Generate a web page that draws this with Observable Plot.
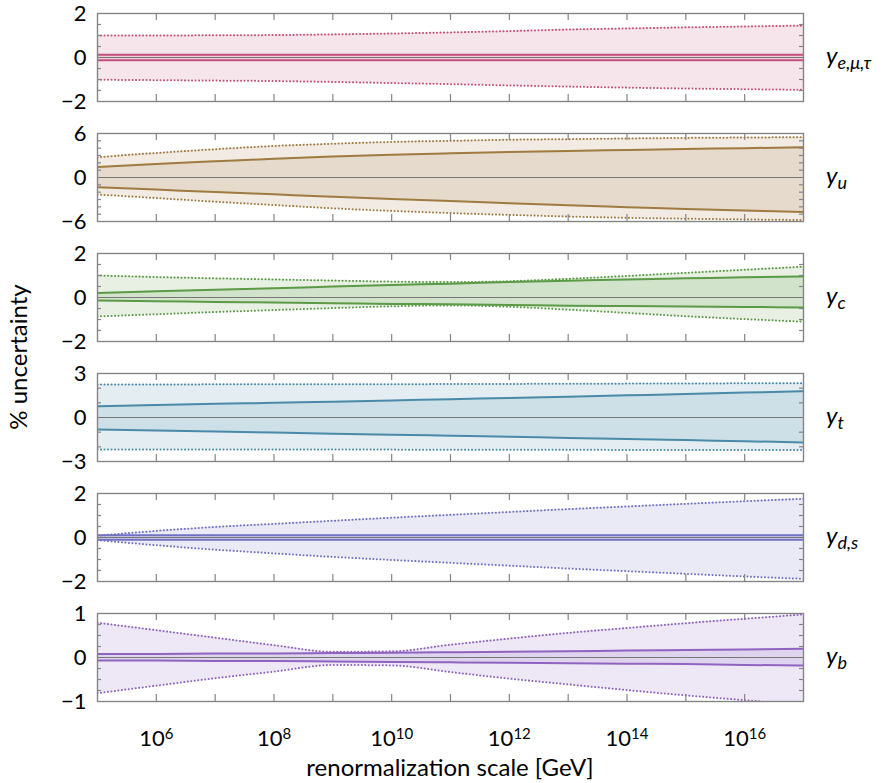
<!DOCTYPE html>
<html>
<head>
<meta charset="utf-8">
<script src="https://cdn.jsdelivr.net/npm/d3@7"></script>
<script src="https://cdn.jsdelivr.net/npm/@observablehq/plot@0.6"></script>
<style>
  html, body { margin: 0; padding: 0; background: #fff; }
  #wrap { position: relative; width: 885px; height: 783px; font-family: Lato, "Noto Sans", sans-serif; color: #000; }
  .panel { position: absolute; left: 0; }
  .rlab { position: absolute; left: 826px; font-size: 24px; font-style: italic; line-height: 1; transform: translateY(-50%); white-space: nowrap; }
  .rlab sub { font-size: 18px; vertical-align: -5px; }
  #ytitle { position: absolute; left: 18px; top: 357px; font-size: 24px; line-height: 1; transform: translate(-50%, -50%) rotate(-90deg); white-space: nowrap; }
  #xtitle { position: absolute; left: 450px; top: 767px; font-size: 24px; line-height: 1; transform: translate(-50%, -50%); white-space: nowrap; }
</style>
</head>
<body>
<div id="wrap"></div>
<script>
// renormalization scale grid (GeV)
const scaleGeV = [1e5, 1e6, 1e7, 1e8, 1e9, 1e10, 1e11, 1e12, 1e13, 1e14, 1e15, 1e16, 1e17];
const xTickValues = [1e6, 1e7, 1e8, 1e9, 1e10, 1e11, 1e12, 1e13, 1e14, 1e15, 1e16];
const xLabelValues = [1e6, 1e8, 1e10, 1e12, 1e14, 1e16];

// y_{e,mu,tau}
const ye_outerUp = [1.00, 1.00, 1.01, 1.02, 1.05, 1.09, 1.14, 1.20, 1.27, 1.32, 1.37, 1.41, 1.45];
const ye_outerLo = [-1.01, -1.03, -1.05, -1.07, -1.11, -1.16, -1.21, -1.27, -1.32, -1.37, -1.41, -1.44, -1.47];
const ye_innerUp = [0.12, 0.12, 0.12, 0.12, 0.12, 0.12, 0.12, 0.12, 0.12, 0.12, 0.12, 0.12, 0.12];
const ye_innerLo = [-0.12, -0.12, -0.12, -0.12, -0.12, -0.12, -0.12, -0.12, -0.12, -0.12, -0.12, -0.12, -0.12];

// y_u
const yu_outerUp = [2.77, 3.35, 3.85, 4.30, 4.60, 4.85, 5.00, 5.15, 5.23, 5.32, 5.40, 5.45, 5.50];
const yu_outerLo = [-2.32, -2.80, -3.30, -3.75, -4.20, -4.55, -4.85, -5.10, -5.32, -5.50, -5.62, -5.72, -5.80];
const yu_innerUp = [1.42, 1.85, 2.20, 2.55, 2.85, 3.10, 3.30, 3.48, 3.62, 3.75, 3.88, 4.00, 4.13];
const yu_innerLo = [-1.32, -1.65, -1.98, -2.30, -2.62, -2.92, -3.20, -3.50, -3.80, -4.05, -4.30, -4.50, -4.70];

// y_c
const yc_outerUp = [1.00, 0.93, 0.87, 0.82, 0.77, 0.72, 0.70, 0.74, 0.85, 0.98, 1.12, 1.26, 1.40];
const yc_outerLo = [-0.86, -0.76, -0.66, -0.57, -0.48, -0.40, -0.36, -0.42, -0.55, -0.70, -0.85, -0.98, -1.10];
const yc_innerUp = [0.21, 0.28, 0.35, 0.42, 0.50, 0.57, 0.63, 0.70, 0.76, 0.82, 0.87, 0.92, 0.96];
const yc_innerLo = [-0.14, -0.17, -0.20, -0.23, -0.26, -0.29, -0.31, -0.34, -0.37, -0.39, -0.41, -0.43, -0.45];

// y_t
const yt_outerUp = [2.25, 2.25, 2.26, 2.26, 2.27, 2.27, 2.28, 2.29, 2.30, 2.31, 2.32, 2.33, 2.34];
const yt_outerLo = [-2.18, -2.18, -2.18, -2.19, -2.19, -2.19, -2.20, -2.20, -2.20, -2.21, -2.21, -2.22, -2.22];
const yt_innerUp = [0.77, 0.85, 0.93, 1.00, 1.08, 1.16, 1.25, 1.33, 1.42, 1.51, 1.60, 1.70, 1.79];
const yt_innerLo = [-0.82, -0.89, -0.96, -1.03, -1.10, -1.17, -1.24, -1.31, -1.39, -1.46, -1.54, -1.62, -1.70];

// y_{d,s}
const yds_outerUp = [0.08, 0.30, 0.48, 0.62, 0.76, 0.90, 1.03, 1.16, 1.29, 1.41, 1.53, 1.65, 1.76];
const yds_outerLo = [-0.12, -0.35, -0.55, -0.72, -0.88, -1.02, -1.15, -1.28, -1.41, -1.53, -1.65, -1.77, -1.88];
const yds_innerUp = [0.10, 0.10, 0.10, 0.10, 0.10, 0.10, 0.10, 0.10, 0.10, 0.10, 0.10, 0.10, 0.10];
const yds_innerLo = [-0.10, -0.10, -0.10, -0.10, -0.10, -0.10, -0.10, -0.10, -0.10, -0.10, -0.10, -0.10, -0.10];

// y_b
const yb_outerUp = [0.79, 0.62, 0.45, 0.28, 0.13, 0.14, 0.29, 0.43, 0.56, 0.67, 0.78, 0.88, 0.98];
const yb_outerLo = [-0.81, -0.64, -0.47, -0.32, -0.17, -0.18, -0.33, -0.48, -0.61, -0.74, -0.86, -0.97, -1.08];
const yb_innerUp = [0.08, 0.08, 0.09, 0.09, 0.10, 0.11, 0.12, 0.13, 0.14, 0.16, 0.17, 0.18, 0.20];
const yb_innerLo = [-0.07, -0.07, -0.08, -0.08, -0.09, -0.10, -0.11, -0.12, -0.13, -0.14, -0.15, -0.17, -0.18];

// panel setup
const panelNames = ["e,μ,τ", "u", "c", "t", "d,s", "b"];
const panelColors = ["#c2507c", "#a07a40", "#5b9a46", "#4a8aa8", "#7272c4", "#8e64c0"];
const panelDomains = [[-2, 2], [-6, 6], [-2, 2], [-3, 3], [-2, 2], [-1, 1]];
const panelLabelTicks = [[-2, 0, 2], [-6, 0, 6], [-2, 0, 2], [-3, 0, 3], [-2, 0, 2], [-1, 0, 1]];
const panelMinorTicks = [
  [-1.5, -1, -0.5, 0.5, 1, 1.5],
  [-5, -4, -3, -2, -1, 1, 2, 3, 4, 5],
  [-1.5, -1, -0.5, 0.5, 1, 1.5],
  [-2, -1, 1, 2],
  [-1.5, -1, -0.5, 0.5, 1, 1.5],
  [-0.75, -0.5, -0.25, 0.25, 0.5, 0.75]
];
const panelSeries = [
  [ye_outerUp, ye_outerLo, ye_innerUp, ye_innerLo],
  [yu_outerUp, yu_outerLo, yu_innerUp, yu_innerLo],
  [yc_outerUp, yc_outerLo, yc_innerUp, yc_innerLo],
  [yt_outerUp, yt_outerLo, yt_innerUp, yt_innerLo],
  [yds_outerUp, yds_outerLo, yds_innerUp, yds_innerLo],
  [yb_outerUp, yb_outerLo, yb_innerUp, yb_innerLo]
];

const wrap = document.getElementById("wrap");
const W = 885, ML = 97, MR = 82, MT = 13, PH = 88, STEP = 120;
const frameColor = "#858585";
const FONT = "Lato, 'Noto Sans', sans-serif";

panelSeries.forEach((series, i) => {
  const [oU, oL, iU, iL] = series;
  const rows = scaleGeV.map((x, k) => ({x, oU: oU[k], oL: oL[k], iU: iU[k], iL: iL[k]}));
  const color = panelColors[i];
  const last = i === panelSeries.length - 1;
  const H = last ? 783 - STEP * i : STEP;
  const curve = "monotone-x";
  const marks = [
    Plot.areaY(rows, {x: "x", y1: "oL", y2: "oU", fill: color, fillOpacity: 0.15, curve, clip: true}),
    Plot.areaY(rows, {x: "x", y1: "iL", y2: "iU", fill: color, fillOpacity: 0.15, curve, clip: true}),
    Plot.ruleY([0], {stroke: "#777", strokeWidth: 1}),
    Plot.lineY(rows, {x: "x", y: "oU", stroke: color, strokeWidth: 2, strokeDasharray: "0.1,3.4", strokeLinecap: "round", curve, clip: true}),
    Plot.lineY(rows, {x: "x", y: "oL", stroke: color, strokeWidth: 2, strokeDasharray: "0.1,3.4", strokeLinecap: "round", curve, clip: true}),
    Plot.lineY(rows, {x: "x", y: "iU", stroke: color, strokeWidth: 2, curve, clip: true}),
    Plot.lineY(rows, {x: "x", y: "iL", stroke: color, strokeWidth: 2, curve, clip: true}),
    // inward frame ticks
    Plot.tickX(xTickValues, {x: d => d, stroke: frameColor, strokeWidth: 1.2, insetBottom: PH - 7}),
    Plot.tickX(xTickValues, {x: d => d, stroke: frameColor, strokeWidth: 1.2, insetTop: PH - 7}),
    Plot.tickY(panelMinorTicks[i], {y: d => d, stroke: frameColor, strokeWidth: 1.2, insetRight: W - ML - MR - 4}),
    Plot.tickY(panelMinorTicks[i], {y: d => d, stroke: frameColor, strokeWidth: 1.2, insetLeft: W - ML - MR - 4}),
    Plot.frame({stroke: frameColor, strokeWidth: 1.4}),
    Plot.axisY({ticks: panelLabelTicks[i], tickSize: 0, tickPadding: 11, fontSize: 22, label: null,
      tickFormat: d => (d < 0 ? "\u2212" + (-d) : String(d))})
  ];
  if (last) {
    marks.push(Plot.axisX({ticks: xLabelValues, tickSize: 0, tickPadding: 29, fontSize: 22, label: null,
      tickFormat: d => "10^" + Math.round(Math.log10(d))}));
  }
  const svg = Plot.plot({
    width: W, height: H,
    marginLeft: ML, marginRight: MR, marginTop: MT, marginBottom: H - MT - PH,
    x: {type: "log", domain: [scaleGeV[0], scaleGeV[scaleGeV.length - 1]], axis: null, label: null},
    y: {domain: panelDomains[i], axis: null, label: null},
    style: {fontFamily: FONT, color: "#000", background: "transparent", overflow: "visible"},
    marks
  });
  // superscripts for powers of ten
  if (last) {
    svg.querySelectorAll("text").forEach(t => {
      const s = t.textContent;
      if (/^10\^\d+$/.test(s)) {
        const p = s.split("^")[1];
        t.textContent = "10";
        const ts = document.createElementNS("http://www.w3.org/2000/svg", "tspan");
        ts.setAttribute("dy", "-0.5em");
        ts.setAttribute("font-size", "15");
        ts.textContent = p;
        t.appendChild(ts);
      }
    });
  }
  const div = document.createElement("div");
  div.className = "panel";
  div.style.top = (STEP * i) + "px";
  div.appendChild(svg);
  wrap.appendChild(div);

  const lab = document.createElement("div");
  lab.className = "rlab";
  lab.style.top = (STEP * i + MT + PH / 2) + "px";
  lab.innerHTML = "y<sub>" + panelNames[i] + "</sub>";
  wrap.appendChild(lab);
});

const yt = document.createElement("div");
yt.id = "ytitle";
yt.textContent = "% uncertainty";
wrap.appendChild(yt);
const xt = document.createElement("div");
xt.id = "xtitle";
xt.textContent = "renormalization scale [GeV]";
wrap.appendChild(xt);
</script>
</body>
</html>
